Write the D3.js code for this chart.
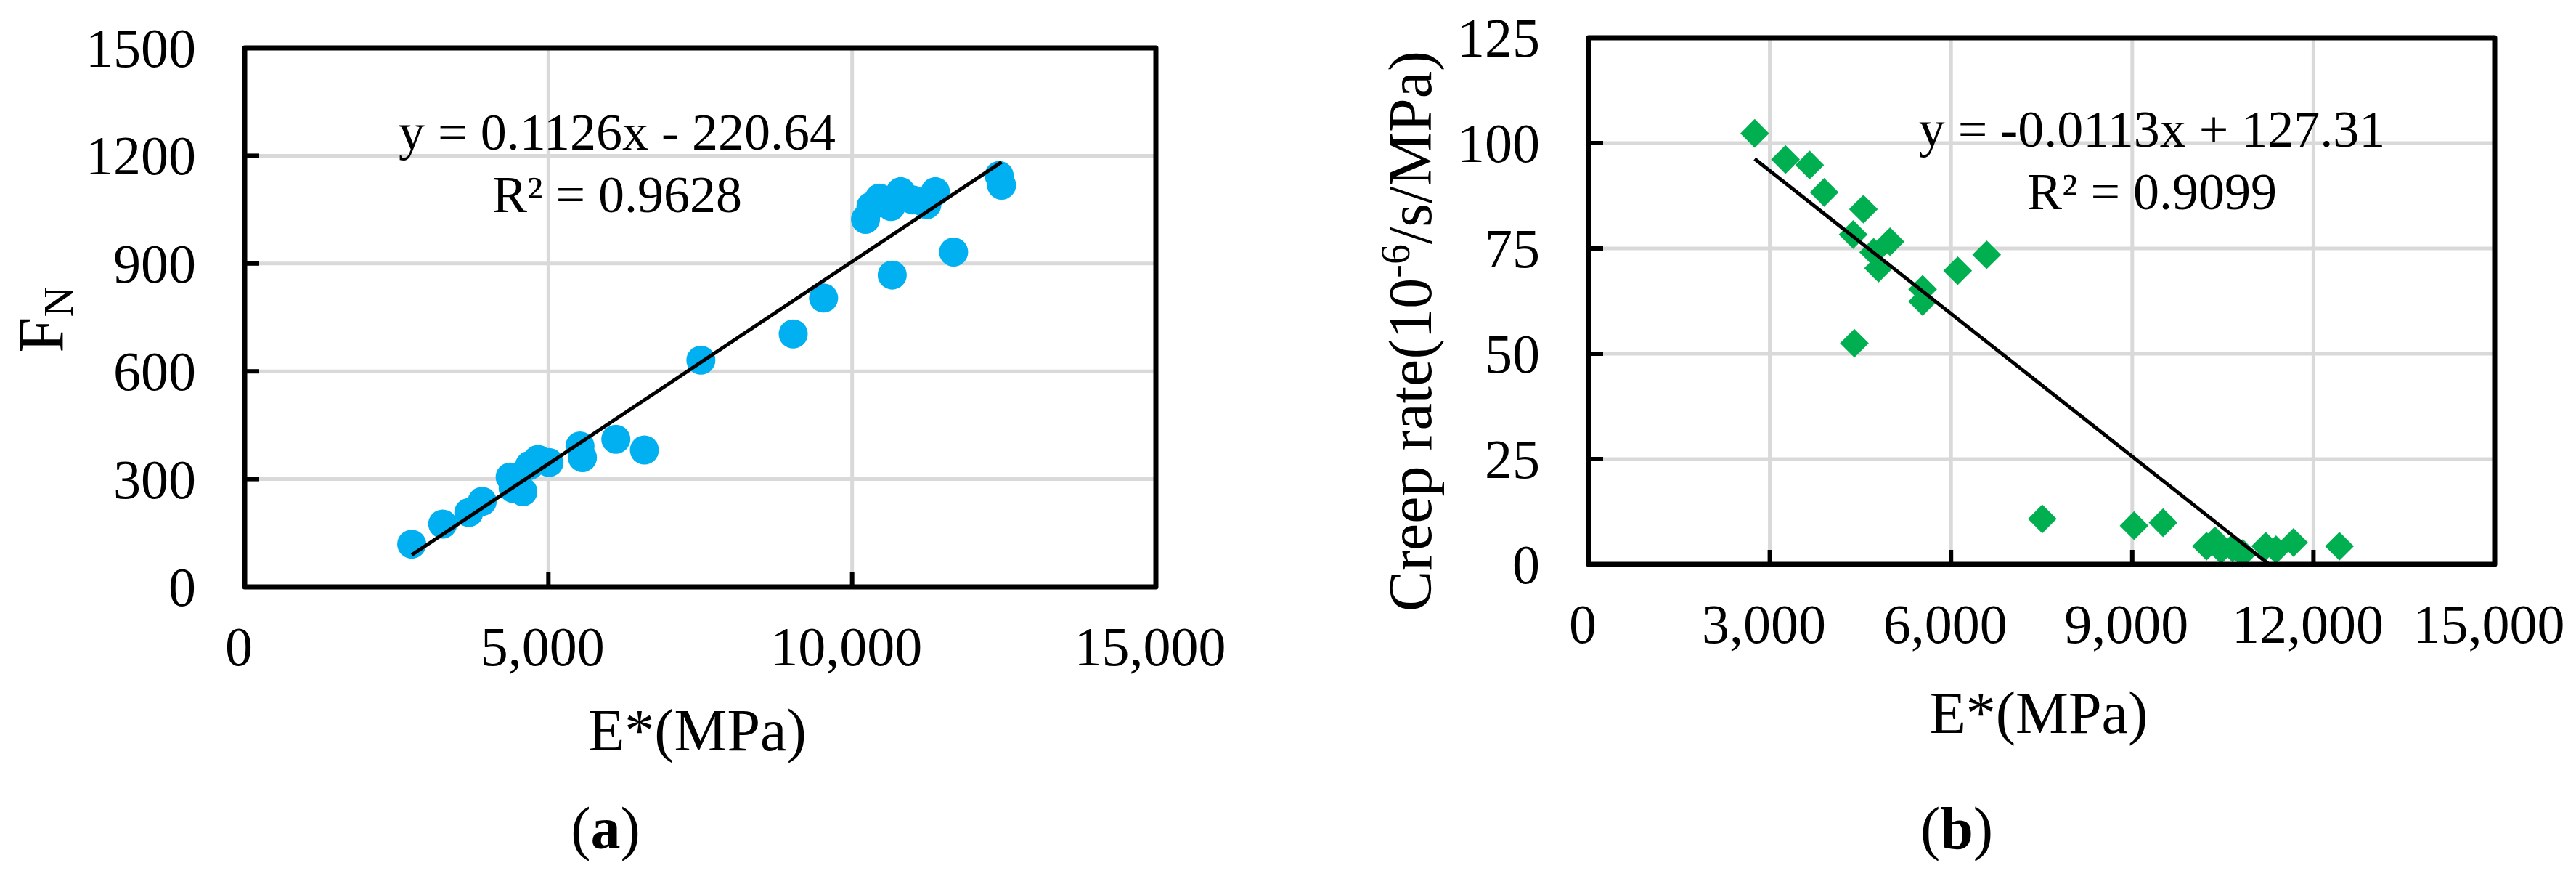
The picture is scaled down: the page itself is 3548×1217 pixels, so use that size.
<!DOCTYPE html>
<html>
<head>
<meta charset="utf-8">
<script src="https://cdnjs.cloudflare.com/ajax/libs/d3/7.8.5/d3.min.js"></script>
<style>
body { margin: 0; background: #fff; }
svg text { font-family: "Liberation Serif", "Times New Roman", serif; fill: #000; }
.grid line { stroke: #d9d9d9; stroke-width: 5; }
.frame { fill: none; stroke: #000; stroke-width: 7; stroke-linejoin: round; }
.tickmark { stroke: #000; stroke-width: 6; }
.trend { stroke: #000; stroke-width: 5; fill: none; }
</style>
</head>
<body>
<svg id="fig" width="3548" height="1217"></svg>
<script>
// (a) normal force vs dynamic modulus
var eA = [2750, 3260, 3690, 3910, 4370, 4420, 4580, 4690, 4830, 5010, 5520, 5560,
          6110, 6580, 7510, 9030, 9530, 10660, 11670, 10220, 10310, 10450, 10640,
          10800, 11000, 11230, 11370, 12420, 12460];
var fnA = [119, 175, 207, 238, 306, 274, 265, 338, 355, 346, 392, 360,
           411, 381, 631, 704, 804, 868, 932, 1023, 1059, 1082, 1059,
           1100, 1077, 1064, 1100, 1145, 1118];
var trendA = [0.1126, -220.64];
var eqA = ["y = 0.1126x - 220.64", "0.9628"];

// (b) creep rate vs dynamic modulus
var eB = [2750, 3260, 3660, 3900, 4380, 4400, 4550, 4720, 4800, 4990, 5530, 5530,
          6110, 6590, 7510, 9030, 9510, 10230, 10370, 10470, 10660, 10830, 11210,
          11380, 11670, 12430];
var crB = [102.3, 96.1, 94.8, 88.3, 78.3, 52.5, 84.3, 74.1, 70.3, 76.6, 65.3, 62.4,
           69.7, 73.5, 10.8, 9.2, 9.9, 4.3, 5.6, 3.5, 3.9, 2.6, 4.3,
           3.5, 5.2, 4.3];
var trendB = [-0.0113, 127.31];
var eqB = ["y = -0.0113x + 127.31", "0.9099"];

var xTicksA = [0, 5000, 10000, 15000];
var yTicksA = [0, 300, 600, 900, 1200, 1500];
var xTicksB = [0, 3000, 6000, 9000, 12000, 15000];
var yTicksB = [0, 25, 50, 75, 100, 125];

var xTitle = "E*(MPa)";

var tickFont = 76;
var titleFont = 82;
var eqFont = 72;
var tickLen = 20;

var svg = d3.select("#fig");
svg.append("rect").attr("width", 3548).attr("height", 1217).attr("fill", "#fff");

var panels = [
	{ key: "a", x: eA, y: fnA, trend: trendA, eq: eqA,
	  xTicks: xTicksA, yTicks: yTicksA,
	  left: 337, right: 1592, top: 66, bottom: 808,
	  marker: "circle", color: "#00b0f0",
	  eqX: 850, eqY: 206, capX: 834, capY: 1168, titleY: 1033 },
	{ key: "b", x: eB, y: crB, trend: trendB, eq: eqB,
	  xTicks: xTicksB, yTicks: yTicksB,
	  left: 2188, right: 3436, top: 52, bottom: 777,
	  marker: "diamond", color: "#00b050",
	  eqX: 2964, eqY: 202, capX: 2695, capY: 1168, titleY: 1009 }
];

var fmt = d3.format(",");

panels.forEach(drawPanel);
drawYTitles();

function drawPanel(p) {

	var xs = d3.scaleLinear()
	.domain([p.xTicks[0], p.xTicks[p.xTicks.length-1]])
	.range([p.left, p.right]);
	var ys = d3.scaleLinear()
	.domain([p.yTicks[0], p.yTicks[p.yTicks.length-1]])
	.range([p.bottom, p.top]);

	var g = svg.append("g").attr("id", "panel-"+p.key);

	var grid = g.append("g").attr("class", "grid");
	grid.selectAll("line.h").data(p.yTicks.slice(1, -1))
	.enter().append("line").attr("class", "h")
	.attr("x1", p.left).attr("x2", p.right)
	.attr("y1", function(d) { return ys(d); })
	.attr("y2", function(d) { return ys(d); });
	grid.selectAll("line.v").data(p.xTicks.slice(1, -1))
	.enter().append("line").attr("class", "v")
	.attr("y1", p.top).attr("y2", p.bottom)
	.attr("x1", function(d) { return xs(d); })
	.attr("x2", function(d) { return xs(d); });

	// markers
	var pts = d3.range(p.x.length);
	var sym = d3.symbol()
	.type(p.marker == "circle" ? d3.symbolCircle : d3.symbolSquare)
	.size(p.marker == "circle" ? Math.PI*20*20 : 28*28);
	g.append("g").selectAll("path").data(pts)
	.enter().append("path")
	.attr("d", sym)
	.attr("fill", p.color)
	.attr("transform", function(i) {
		var t = "translate("+[xs(p.x[i]), ys(p.y[i])]+")";
		return p.marker == "circle" ? t : t+" rotate(45)";
	});

	// linear trendline, clipped to the plot area
	g.append("clipPath").attr("id", "clip-"+p.key)
	.append("rect")
	.attr("x", p.left).attr("y", p.top)
	.attr("width", p.right-p.left).attr("height", p.bottom-p.top);
	var ext = d3.extent(p.x);
	var line = d3.line()
	.x(function(d) { return xs(d); })
	.y(function(d) { return ys(p.trend[0]*d + p.trend[1]); });
	g.append("path")
	.attr("class", "trend")
	.attr("clip-path", "url(#clip-"+p.key+")")
	.attr("d", line(ext));

	// frame and inner tick marks
	g.append("rect").attr("class", "frame")
	.attr("x", p.left).attr("y", p.top)
	.attr("width", p.right-p.left).attr("height", p.bottom-p.top);
	g.selectAll("line.xt").data(p.xTicks.slice(1, -1))
	.enter().append("line").attr("class", "tickmark")
	.attr("x1", function(d) { return xs(d); })
	.attr("x2", function(d) { return xs(d); })
	.attr("y1", p.bottom).attr("y2", p.bottom-tickLen);
	g.selectAll("line.yt").data(p.yTicks.slice(1, -1))
	.enter().append("line").attr("class", "tickmark")
	.attr("y1", function(d) { return ys(d); })
	.attr("y2", function(d) { return ys(d); })
	.attr("x1", p.left).attr("x2", p.left+tickLen);

	// tick labels
	g.selectAll("text.xl").data(p.xTicks)
	.enter().append("text")
	.attr("x", function(d) { return xs(d)-8; })
	.attr("y", p.bottom+108)
	.attr("text-anchor", "middle")
	.attr("font-size", tickFont)
	.text(function(d) { return fmt(d); });
	g.selectAll("text.yl").data(p.yTicks)
	.enter().append("text")
	.attr("x", p.left-67)
	.attr("y", function(d) { return ys(d)+26; })
	.attr("text-anchor", "end")
	.attr("font-size", tickFont)
	.text(function(d) { return d; });

	// x title and caption
	g.append("text")
	.attr("x", (p.left+p.right)/2-4)
	.attr("y", p.titleY)
	.attr("text-anchor", "middle")
	.attr("font-size", titleFont)
	.text(xTitle);
	var cap = g.append("text")
	.attr("x", p.capX).attr("y", p.capY)
	.attr("text-anchor", "middle")
	.attr("font-size", titleFont);
	cap.append("tspan").text("(");
	cap.append("tspan").attr("font-weight", "bold").text(p.key);
	cap.append("tspan").text(")");

	// regression equation
	g.append("text")
	.attr("x", p.eqX).attr("y", p.eqY)
	.attr("text-anchor", "middle")
	.attr("font-size", eqFont)
	.text(p.eq[0]);
	g.append("text")
	.attr("x", p.eqX).attr("y", p.eqY+86)
	.attr("text-anchor", "middle")
	.attr("font-size", eqFont)
	.text("R\u00b2 = "+p.eq[1]);
}

function drawYTitles() {

	var fa = svg.append("text")
	.attr("transform", "translate(86,440) rotate(-90)")
	.attr("text-anchor", "middle")
	.attr("font-size", 88);
	fa.append("tspan").text("F");
	fa.append("tspan").attr("font-size", 58).attr("dy", 14).text("N");

	var fb = svg.append("text")
	.attr("transform", "translate(1971,456) rotate(-90)")
	.attr("text-anchor", "middle")
	.attr("font-size", 84);
	fb.append("tspan").text("Creep rate(10");
	fb.append("tspan").attr("font-size", 56).attr("dy", -30).text("-6");
	fb.append("tspan").attr("dy", 30).text("/s/MPa)");
}
</script>
</body>
</html>
